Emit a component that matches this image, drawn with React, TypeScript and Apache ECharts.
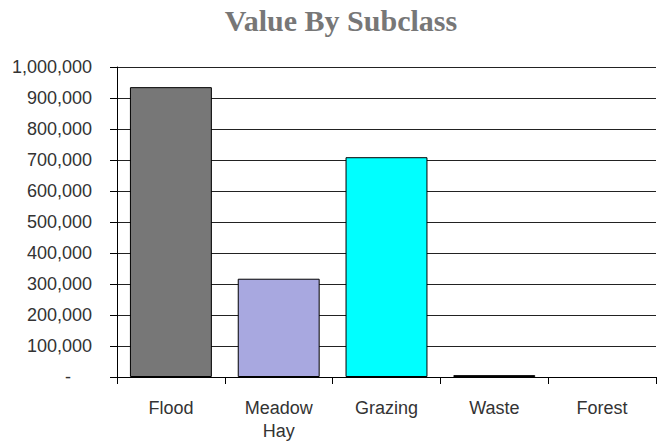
import React, { useEffect, useRef } from "react";
import * as echarts from "echarts";

const categories = ["Flood", "Meadow\nHay", "Grazing", "Waste", "Forest"];
const values = [935000, 317000, 709000, 6000, 0];
const barColors = ["#777777", "#a8a8e0", "#00ffff", "#222222", "#ffffff"];
const titleText = "Value By Subclass";

export default function App() {
  const ref = useRef<HTMLDivElement>(null);
  useEffect(() => {
    document.body.style.margin = "0";
    const chart = echarts.init(ref.current!, null, { renderer: "svg" });
    chart.setOption({
      animation: false,
      backgroundColor: "#ffffff",
      title: {
        text: titleText,
        left: 336,
        textAlign: "center",
        top: 0,
        textStyle: {
          fontFamily: "Liberation Serif",
          fontWeight: "bold",
          fontSize: 30,
          color: "#777777",
        },
      },
      grid: { left: 117, right: 2, top: 67, bottom: 67, containLabel: false },
      xAxis: {
        type: "category",
        data: categories,
        axisLine: { show: true, lineStyle: { color: "#000", width: 1 } },
        axisTick: { show: true, length: 7, lineStyle: { color: "#000" } },
        axisLabel: {
          interval: 0,
          margin: 19,
          fontSize: 18,
          lineHeight: 23,
          color: "#333",
          fontFamily: "Liberation Sans",
        },
      },
      yAxis: {
        type: "value",
        min: 0,
        max: 1000000,
        interval: 100000,
        axisLine: { show: true, lineStyle: { color: "#000", width: 1 } },
        axisTick: { show: true, length: 7, lineStyle: { color: "#000" } },
        splitLine: { show: true, lineStyle: { color: "#222", width: 1 } },
        axisLabel: {
          margin: 25,
          fontSize: 18,
          color: "#333",
          fontFamily: "Liberation Sans",
          formatter: (v: number) =>
            v === 0 ? "{z|-}" : v.toLocaleString("en-US"),
          rich: {
            z: {
              fontSize: 18,
              color: "#333",
              fontFamily: "Liberation Sans",
              padding: [0, 21, 0, 0],
            },
          },
        },
      },
      series: [
        {
          type: "bar",
          barCategoryGap: "24%",
          data: values.map((v, i) => ({
            value: v,
            itemStyle: {
              color: barColors[i],
              borderColor: "#000",
              borderWidth: v === 0 ? 0 : 1,
            },
          })),
        },
      ],
    });
    return () => chart.dispose();
  }, []);
  return <div ref={ref} style={{ width: 658, height: 444 }} />;
}
